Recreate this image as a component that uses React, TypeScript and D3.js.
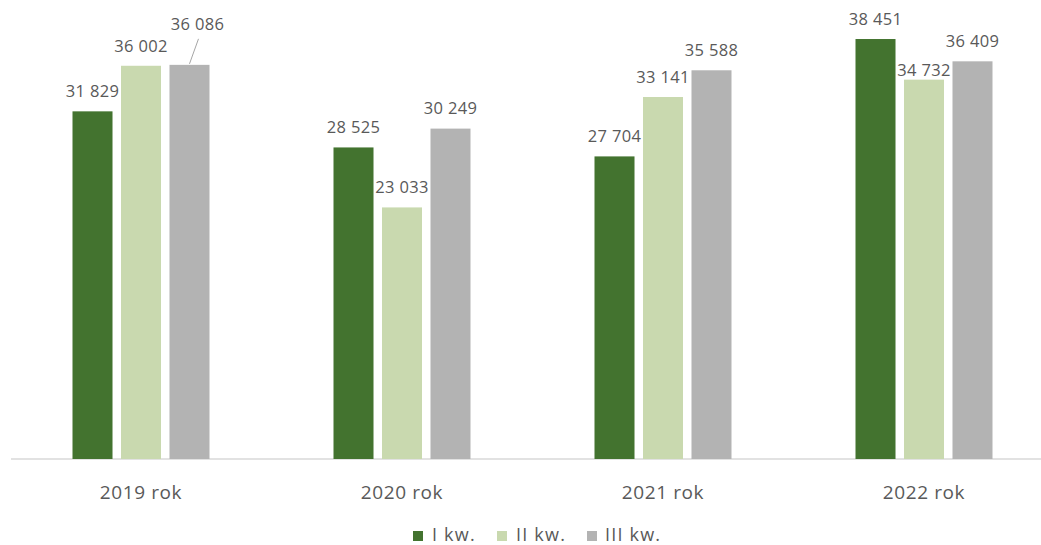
import React from "react";
import * as d3 from "d3";

const categories = ["2019 rok", "2020 rok", "2021 rok", "2022 rok"];
const seriesNames = ["I kw.", "II kw.", "III kw."];
const q1 = [31829, 28525, 27704, 38451];
const q2 = [36002, 23033, 33141, 34732];
const q3 = [36086, 30249, 35588, 36409];
const colors = ["#43732F", "#C9D9AF", "#B3B3B3"];

const W = 1041;
const H = 545;
const fmt = (v: number) => {
  const s = String(v);
  return s.length > 3 ? s.slice(0, s.length - 3) + " " + s.slice(s.length - 3) : s;
};

export default function App() {
  const series = [q1, q2, q3];
  const x = d3.scaleBand<string>().domain(categories).range([10.5, 1054.5]).paddingInner(0).paddingOuter(0);
  const xi = d3.scaleBand<number>().domain([0, 1, 2]).range([-68.5, 68.5]).paddingInner(0.175);
  const y = d3.scaleLinear().domain([0, 40000]).range([459, 22.1]);
  const font = "'Open Sans', 'Liberation Sans', sans-serif";
  const textColor = "#595959";

  const labelAdj: Record<string, { dx: number; dy: number; leader?: boolean }> = {
    "2-0": { dx: 8, dy: -41, leader: true },
    "1-3": { dx: 0, dy: -9 },
  };

  const legendItems = [
    { sx: 413, tx: 432 },
    { sx: 497, tx: 516 },
    { sx: 587, tx: 605 },
  ];

  return (
    <svg width={W} height={H} style={{ position: "absolute", left: 0, top: 0, background: "#fff" }} fontFamily={font}>
      <line x1={11} x2={1041} y1={y(0)} y2={y(0)} stroke="#D9D9D9" strokeWidth={1.5} />
      {categories.map((c, ci) => (
        <g key={c}>
          {series.map((s, si) => {
            const bx = (x(c) as number) + x.bandwidth() / 2 + (xi(si) as number);
            const bw = xi.bandwidth();
            const top = y(s[ci]);
            const adj = labelAdj[`${si}-${ci}`] || { dx: 0, dy: -20 };
            const cx = bx + bw / 2;
            return (
              <g key={si}>
                <rect x={bx} y={top} width={bw} height={y(0) - top} fill={colors[si]} />
                {adj.leader && (
                  <line x1={cx} y1={top - 1} x2={cx + 9} y2={top - 26} stroke="#A6A6A6" strokeWidth={1} />
                )}
                <text
                  x={cx + adj.dx}
                  y={top + adj.dy}
                  dy="0.35em"
                  textAnchor="middle"
                  fontSize={16.5}
                  letterSpacing={0.3}
                  fill={textColor}
                >
                  {fmt(s[ci])}
                </text>
              </g>
            );
          })}
          <text
            x={(x(c) as number) + x.bandwidth() / 2}
            y={492}
            dy="0.35em"
            textAnchor="middle"
            fontSize={19}
            letterSpacing={0.6}
            fill={textColor}
          >
            {c}
          </text>
        </g>
      ))}
      {seriesNames.map((n, i) => (
        <g key={n}>
          <rect x={legendItems[i].sx} y={531} width={10} height={10} fill={colors[i]} />
          <text x={legendItems[i].tx} y={535} dy="0.35em" fontSize={18} letterSpacing={1.2} fill={textColor}>
            {n}
          </text>
        </g>
      ))}
    </svg>
  );
}
